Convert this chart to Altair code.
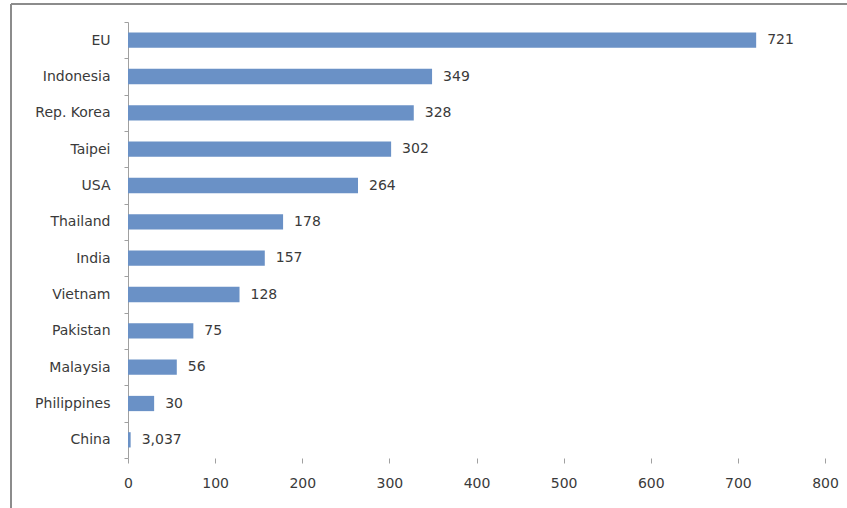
import altair as alt
import pandas as pd

countries = ["EU", "Indonesia", "Rep. Korea", "Taipei", "USA", "Thailand", "India",
             "Vietnam", "Pakistan", "Malaysia", "Philippines", "China"]
values = [721, 349, 328, 302, 264, 178, 157, 128, 75, 56, 30, 3.037]
labels = ["721", "349", "328", "302", "264", "178", "157", "128", "75", "56", "30", "3,037"]
x_ticks = [0, 100, 200, 300, 400, 500, 600, 700, 800]

df = pd.DataFrame({"country": countries, "value": values, "label": labels})

W, H = 697, 436
FONT = "DejaVu Sans"
FS = 14
TXT = "#3a3a3a"
AX = "#a0a0a0"

y_enc = alt.Y("country:N", sort=countries, title=None,
              scale=alt.Scale(paddingInner=0, paddingOuter=0),
              axis=alt.Axis(tickBand="extent", domainColor=AX, tickColor=AX,
                            tickSize=4, labelPadding=14, labelFont=FONT, labelFontSize=FS,
                            labelColor=TXT, grid=False))
x_enc = alt.X("value:Q", title=None,
              scale=alt.Scale(domain=[0, 800], nice=False),
              axis=alt.Axis(values=x_ticks, domain=False, tickColor=AX, tickSize=5,
                            labelPadding=13, labelFont=FONT, labelFontSize=FS,
                            labelColor=TXT, grid=False, format="d", labelFlush=False))

bars = alt.Chart(df).mark_bar(color="#6a91c6", height=alt.RelativeBandSize(0.42)).encode(
    x=x_enc, y=y_enc)
text = alt.Chart(df).mark_text(align="left", baseline="middle", dx=11, font=FONT,
                               fontSize=FS, color=TXT).encode(
    x="value:Q", y=alt.Y("country:N", sort=countries), text="label:N")

frame_left = alt.Chart(df).mark_rule(color="#8c8c8c", strokeWidth=1.5).encode(
    x=alt.value(-117), y=alt.value(-18), y2=alt.value(H + 60))
frame_top = alt.Chart(df).mark_rule(color="#8c8c8c", strokeWidth=1.5).encode(
    x=alt.value(-117), x2=alt.value(W + 30), y=alt.value(-18))

chart = alt.layer(frame_left, frame_top, bars, text).properties(
    width=W, height=H,
    background="white",
    autosize=alt.AutoSizeParams(type="none"),
    padding={"left": 128, "top": 22, "right": 22, "bottom": 50},
).configure_view(stroke=None)

chart.save("out.html", embed_options={"renderer": "svg", "actions": False})
